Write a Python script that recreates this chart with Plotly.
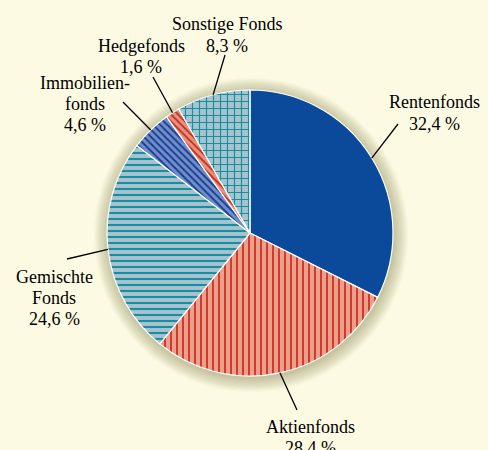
import math
import plotly.graph_objects as go

# ---- data ----
labels = ["Rentenfonds", "Aktienfonds", "Gemischte Fonds", "Immobilienfonds", "Hedgefonds", "Sonstige Fonds"]
values = [32.4, 28.4, 24.6, 4.6, 1.6, 8.3]
label_lines = [["Rentenfonds", "32,4 %"], ["Aktienfonds", "28,4 %"], ["Gemischte", "Fonds", "24,6 %"],
               ["Immobilien-", "fonds", "4,6 %"], ["Hedgefonds", "1,6 %"], ["Sonstige Fonds", "8,3 %"]]

# ---- styles ----
bg_colors = ["#0B4A9A", "#EBA08C", "#A9C2CE", "#6E8FCB", "#E8927E", "#A9C2D0"]
fg_colors = ["#0B4A9A", "#D23A2A", "#1590A2", "#1A3A8C", "#C0301F", "#10919C"]
shapes_pat = ["", "|", "-", "\\", "\\", "+"]
pat_sizes = [6, 6, 6, 5, 5, 7]
pat_solid = [0.33, 0.33, 0.35, 0.35, 0.35, 0.3]

W, H = 488, 450
CX, CY, R = 250, 233, 143
LINE_H = 21
# label centre positions (px) and leader-line outer ends (px)
label_pos = [(434, 113), (310, 437), (54, 298), (85, 104), (141, 56), (227, 35)]
line_outer = [(398, 124), (297, 410), (67, 259), (123, 102), (153, 77), (225, 55)]

def px(x, y):
    return x / W, 1 - y / H

fig = go.Figure()
fig.add_trace(go.Pie(
    labels=labels, values=values, sort=False, direction="clockwise", rotation=0,
    textinfo="none", hoverinfo="label+percent",
    marker=dict(colors=bg_colors, line=dict(color="white", width=1.2),
                pattern=dict(shape=shapes_pat, fgcolor=fg_colors, bgcolor=bg_colors,
                             size=pat_sizes, solidity=pat_solid, fillmode="replace")),
    domain=dict(x=[(CX - R) / W, (CX + R) / W], y=[1 - (CY + R) / H, 1 - (CY - R) / H]),
    showlegend=False,
))

shapes = []
# soft shadow around pie
for i in range(12):
    r = R + 1 + i * 1.2
    ox, oy = CX + 1, CY + 2
    x0, y0 = px(ox - r, oy + r)
    x1, y1 = px(ox + r, oy - r)
    shapes.append(dict(type="circle", xref="paper", yref="paper", x0=x0, y0=y0, x1=x1, y1=y1,
                       fillcolor="rgba(90,80,40,0.032)", line=dict(width=0), layer="below"))

total = sum(values)
cum = 0
annotations = []
for v, lines, (lx, ly), (ox, oy) in zip(values, label_lines, label_pos, line_outer):
    mid = (cum + v / 2) / total * 2 * math.pi
    cum += v
    ex, ey = CX + R * math.sin(mid), CY - R * math.cos(mid)
    a = px(ex, ey)
    b = px(ox, oy)
    shapes.append(dict(type="line", xref="paper", yref="paper", x0=a[0], y0=a[1], x1=b[0], y1=b[1],
                       line=dict(color="black", width=1.3), layer="above"))
    n = len(lines)
    for i, t in enumerate(lines):
        tx, ty = px(lx, ly + (i - (n - 1) / 2) * LINE_H)
        annotations.append(dict(x=tx, y=ty, xref="paper", yref="paper", text=t, showarrow=False,
                                xanchor="center", yanchor="middle",
                                font=dict(family="Liberation Serif, Times New Roman, serif", size=18, color="black")))

fig.update_layout(
    width=W, height=H, margin=dict(l=0, r=0, t=0, b=0),
    paper_bgcolor="#FCFAE3", plot_bgcolor="#FCFAE3",
    shapes=shapes, annotations=annotations,
)
fig.write_html("out.html", config={"displayModeBar": False},
               post_script="document.body.style.margin='0';")
